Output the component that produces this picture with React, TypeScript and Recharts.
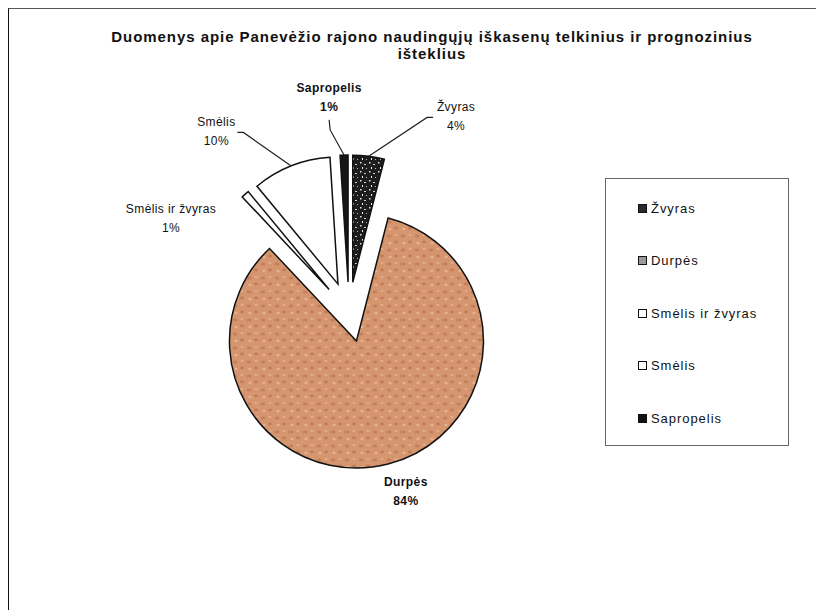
import React from 'react';
import {Legend, Pie, PieChart, Sector} from 'recharts';

// resource shares, % (Panevėžio rajonas)
const categories = ['Žvyras', 'Durpės', 'Smėlis ir žvyras', 'Smėlis', 'Sapropelis'];
const shares = [4, 84, 1, 10, 1];

const FONT = '"Liberation Sans", Arial, sans-serif';
const RAD = Math.PI / 180;
const EXPLODE = 30;

const FILLS: Record<string, string> = {
    'Žvyras': 'url(#granite)',
    'Durpės': 'url(#cork)',
    'Smėlis ir žvyras': '#ffffff',
    'Smėlis': '#ffffff',
    'Sapropelis': '#161616',
};

const SWATCH: Record<string, string> = {
    'Žvyras': '#2a2a2a',
    'Durpės': '#9a9a9a',
    'Smėlis ir žvyras': '#ffffff',
    'Smėlis': '#ffffff',
    'Sapropelis': '#111111',
};

const data = categories.map((name, i) => ({name, value: shares[i], fill: FILLS[name]}));

// where each data label sits (angle / distance from pie centre) and its leader
const LABEL_LAYOUT: Record<string, {angle: number, dist: number, bold: boolean, leader: string | null}> = {
    'Žvyras': {angle: 61.3, dist: 223, bold: false, leader: 'left'},
    'Durpės': {angle: -72.4, dist: 188, bold: true, leader: null},
    'Smėlis ir žvyras': {angle: 152.3, dist: 201, bold: false, leader: null},
    'Smėlis': {angle: 126.3, dist: 224, bold: false, leader: 'right'},
    'Sapropelis': {angle: 95.3, dist: 215, bold: true, leader: 'down'},
};

const polar = (cx: number, cy: number, r: number, a: number) => ({
    x: cx + r * Math.cos(-a * RAD),
    y: cy + r * Math.sin(-a * RAD),
});

const ExplodedSector = (props: any) => {
    const p = polar(props.cx, props.cy, EXPLODE, props.midAngle);
    return <Sector {...props} cx={p.x} cy={p.y}/>;
};

const renderLabel = (props: any) => {
    const {cx, cy, midAngle, outerRadius, name, percent} = props;
    const lay = LABEL_LAYOUT[name];
    const c = polar(cx, cy, lay.dist, lay.angle);
    let line = null;
    if (lay.leader) {
        const s = polar(cx, cy, EXPLODE + outerRadius, midAngle);
        let tail = {x: c.x, y: c.y + 22};
        let elbow = {x: c.x + 1, y: c.y + 32};
        if (lay.leader === 'left') {
            tail = {x: c.x - 23, y: c.y + 1};
            elbow = {x: c.x - 29, y: c.y + 1};
        } else if (lay.leader === 'right') {
            tail = {x: c.x + 21, y: c.y + 1};
            elbow = {x: c.x + 27, y: c.y + 1};
        }
        line = <polyline points={`${tail.x},${tail.y} ${elbow.x},${elbow.y} ${s.x},${s.y}`}
                         fill="none" stroke="#222" strokeWidth={1.2}/>;
    }
    return (
        <g>
            {line}
            <text x={c.x} y={c.y - 9.5} textAnchor="middle" dominantBaseline="central"
                  fontFamily={FONT} fontSize={12} fontWeight={lay.bold ? 'bold' : 'normal'}
                  letterSpacing={0.4} fill="#111">{name}</text>
            <text x={c.x} y={c.y + 9.5} textAnchor="middle" dominantBaseline="central"
                  fontFamily={FONT} fontSize={12} fontWeight={lay.bold ? 'bold' : 'normal'}
                  letterSpacing={0.4} fill="#111">{Math.round(percent * 100)}%</text>
        </g>
    );
};

const LegendBox = ({payload}: any) => {
    const items = [...(payload || [])].sort(
        (a: any, b: any) => categories.indexOf(a.value) - categories.indexOf(b.value));
    return (
        <div style={{
            width: 184, height: 268, border: '1.5px solid #666', boxSizing: 'border-box',
            background: '#fff', position: 'relative', fontFamily: FONT, fontSize: 13, color: '#111',
        }}>
            {items.map((p: any, i: number) => (
                <div key={p.value} style={{
                    position: 'absolute', left: 32, top: 29 + i * 52.5 - 9, height: 18,
                    display: 'flex', alignItems: 'center', whiteSpace: 'nowrap', letterSpacing: 0.95,
                }}>
                    <span style={{
                        display: 'inline-block', width: 7, height: 7, border: '1.2px solid #111',
                        background: SWATCH[p.value], marginRight: 4,
                    }}/>
                    <span>{p.value}</span>
                </div>
            ))}
        </div>
    );
};

export default function App() {
    return (
        <div style={{position: 'relative', width: 816, height: 602}}>
            <div style={{
                position: 'absolute', left: -1, top: -1, width: 817, height: 603,
                borderTop: '2px solid #555', borderLeft: '2px solid #111', boxSizing: 'border-box',
            }}/>
            <div style={{
                position: 'absolute', left: 0, top: 20, width: 848, textAlign: 'center',
                fontFamily: FONT, fontSize: 15, fontWeight: 'bold', lineHeight: '17px',
                letterSpacing: 0.95, color: '#111',
            }}>
                Duomenys apie Panevėžio rajono naudingųjų iškasenų telkinius ir prognozinius<br/>išteklius
            </div>
            <div style={{position: 'absolute', left: 0, top: 0}}>
                <PieChart width={816} height={602} margin={{top: 0, right: 0, bottom: 0, left: 0}}>
                    <defs>
                        <pattern id="cork" width="14" height="14" patternUnits="userSpaceOnUse">
                            <rect width="14" height="14" fill="#D5966F"/>
                            <ellipse cx="3" cy="4" rx="2.5" ry="1.5" fill="#C47F5B"/>
                            <ellipse cx="10" cy="10" rx="2" ry="1.4" fill="#C27C58"/>
                            <ellipse cx="10" cy="3" rx="1.6" ry="1.1" fill="#E3AE8B"/>
                            <ellipse cx="4" cy="11" rx="1.6" ry="1.2" fill="#E5B393"/>
                        </pattern>
                        <pattern id="granite" width="9" height="9" patternUnits="userSpaceOnUse">
                            <rect width="9" height="9" fill="#1d1d1d"/>
                            <rect x="1" y="1" width="1.5" height="1.5" fill="#e0e0e0"/>
                            <rect x="5" y="3" width="2" height="1" fill="#cfcfcf"/>
                            <rect x="3" y="6" width="1" height="2" fill="#eeeeee"/>
                            <rect x="7" y="7" width="1" height="1" fill="#bbbbbb"/>
                        </pattern>
                    </defs>
                    <Pie
                        data={data}
                        dataKey="value"
                        nameKey="name"
                        cx={341}
                        cy={304}
                        outerRadius={127}
                        startAngle={90}
                        endAngle={-270}
                        stroke="#111"
                        strokeWidth={1.5}
                        shape={ExplodedSector}
                        label={renderLabel}
                        labelLine={false}
                        isAnimationActive={false}
                    />
                    <Legend
                        content={<LegendBox/>}
                        wrapperStyle={{left: 597, top: 170, width: 184, height: 268, bottom: 'auto'}}
                    />
                </PieChart>
            </div>
        </div>
    );
}
